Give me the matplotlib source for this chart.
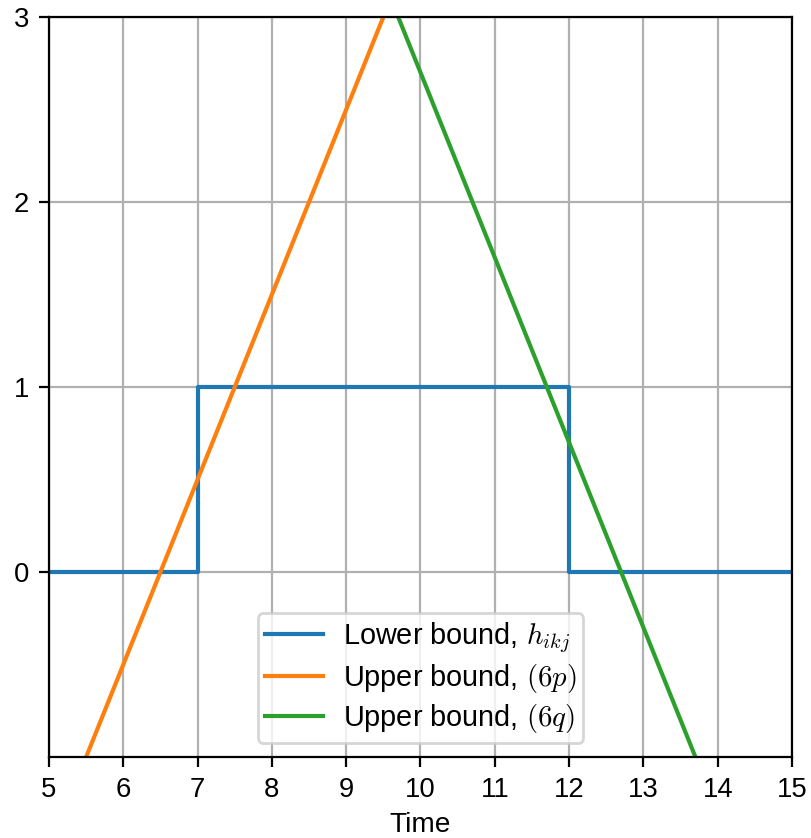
import matplotlib
matplotlib.use("Agg")
import matplotlib.pyplot as plt

plt.rcParams["font.family"] = ["Liberation Sans", "DejaVu Sans"]
plt.rcParams["mathtext.fontset"] = "cm"
plt.rcParams["font.size"] = 10.4
plt.rcParams["xtick.labelsize"] = 9.9
plt.rcParams["ytick.labelsize"] = 9.9

# Lower bound: step profile over time
lower_t = [5, 7, 7, 12, 12, 15]
lower_h = [0, 0, 1, 1, 0, 0]

# Upper bounds: rising (6p) and falling (6q) constraints
up_p_t = [5.5, 9.5]
up_p_h = [-1, 3]
up_q_t = [9.7, 13.7]
up_q_h = [3, -1]

x_ticks = [5, 6, 7, 8, 9, 10, 11, 12, 13, 14, 15]
y_ticks = [0, 1, 2, 3]

dpi = 200
fig = plt.figure(figsize=(812 / dpi, 838 / dpi), dpi=dpi)
ax = fig.add_axes([49 / 812, 1 - 757 / 838, (792 - 49) / 812, (757 - 17) / 838])

ax.plot(lower_t, lower_h, color="#1f77b4", label=r"Lower bound, $h_{ikj}$")
ax.plot(up_p_t, up_p_h, color="#ff7f0e", label=r"Upper bound, $(6p)$")
ax.plot(up_q_t, up_q_h, color="#2ca02c", label=r"Upper bound, $(6q)$")

ax.set_xlim(5, 15)
ax.set_ylim(-1, 3)
ax.set_xticks(x_ticks)
ax.set_yticks(y_ticks)
ax.tick_params(pad=3.6)
ax.grid(True)
ax.set_axisbelow(True)
ax.set_xlabel("Time", labelpad=3.2, fontsize=10.1)
ax.legend(loc="lower center", labelspacing=0.25, borderpad=0.25,
          handletextpad=0.7)

fig.savefig("out.png", dpi=dpi)
